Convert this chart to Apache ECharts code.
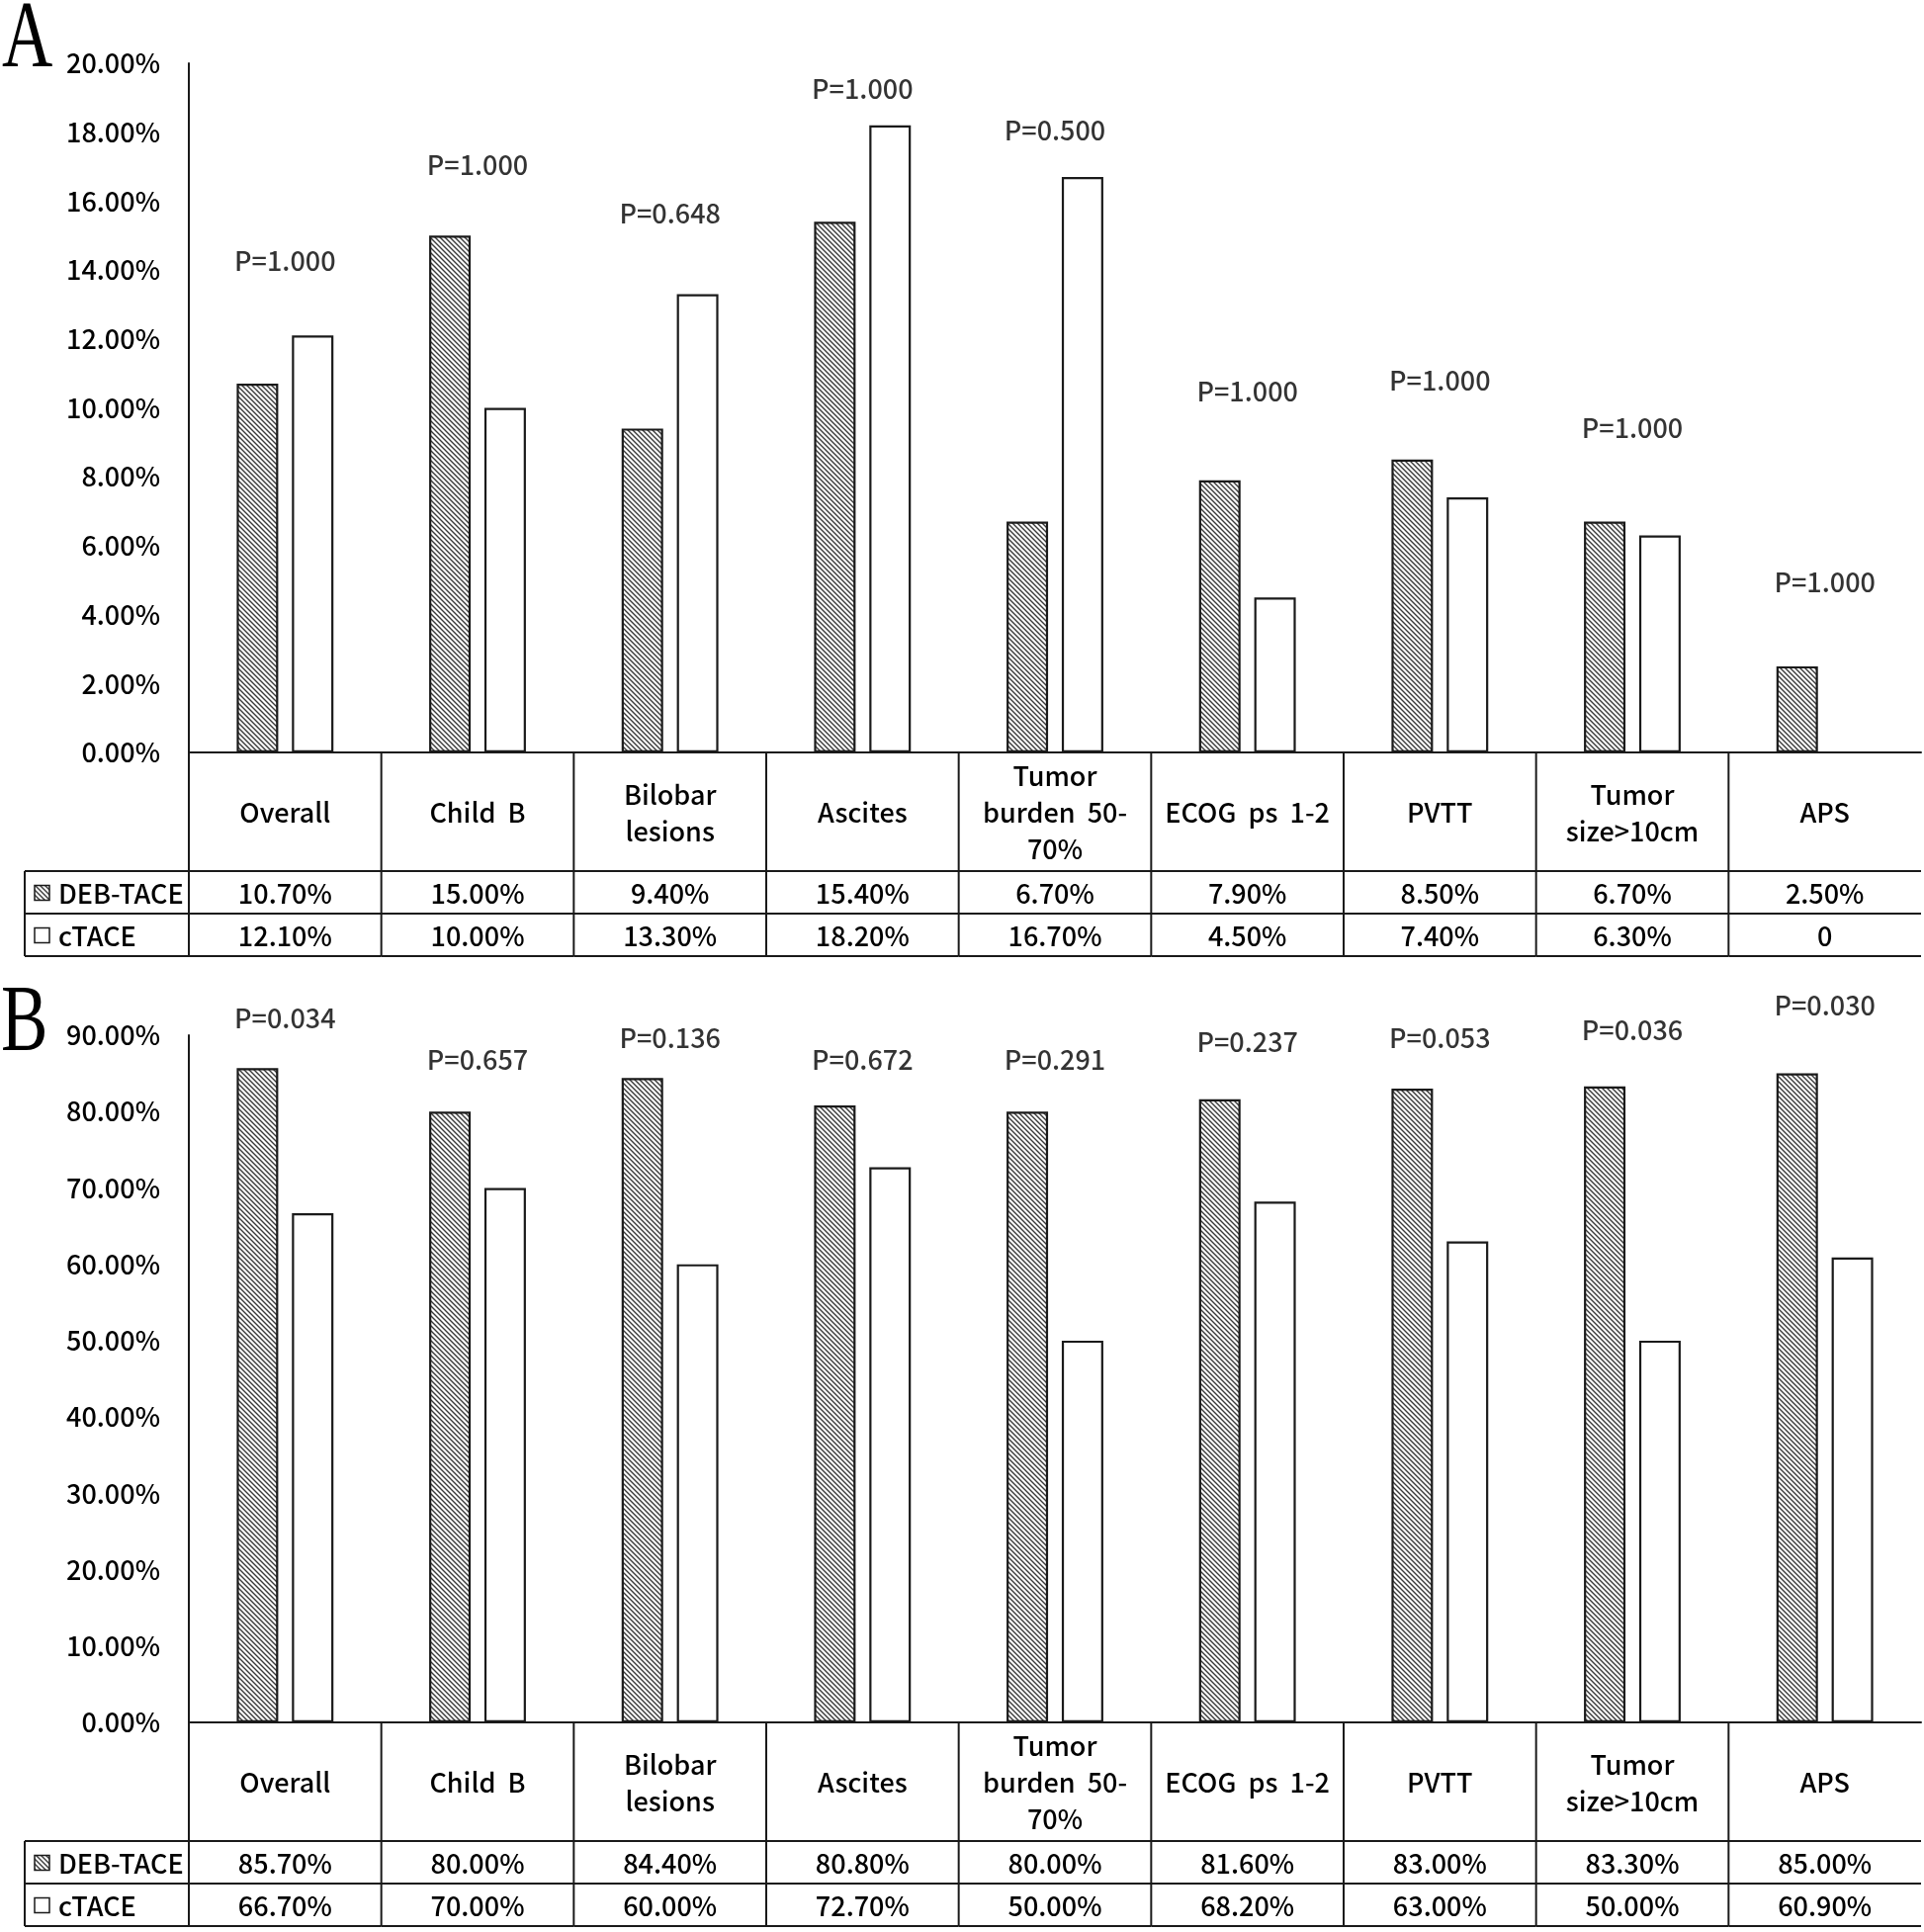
<!DOCTYPE html>
<html>
<head>
<meta charset="utf-8">
<script src="https://cdn.jsdelivr.net/npm/echarts@6/dist/echarts.min.js"></script>
<style>
html,body{margin:0;padding:0;background:#fff;}
#chart{width:1946px;height:1954px;}
</style>
</head>
<body>
<div id="chart"></div>
<script>
// ---------------- data ----------------
const categories = ['Overall', 'Child  B', 'Bilobar\nlesions', 'Ascites', 'Tumor\nburden  50-\n70%', 'ECOG  ps  1-2', 'PVTT', 'Tumor\nsize>10cm', 'APS'];
const seriesNames = ['DEB-TACE', 'cTACE'];

const debA   = [10.7, 15.0, 9.4, 15.4, 6.7, 7.9, 8.5, 6.7, 2.5];
const ctaceA = [12.1, 10.0, 13.3, 18.2, 16.7, 4.5, 7.4, 6.3, 0];
const pTextA = ['P=1.000', 'P=1.000', 'P=0.648', 'P=1.000', 'P=0.500', 'P=1.000', 'P=1.000', 'P=1.000', 'P=1.000'];
const pLevelA = [14.26, 17.05, 15.65, 19.26, 18.05, 10.47, 10.79, 9.43, 4.93];

const debB   = [85.7, 80.0, 84.4, 80.8, 80.0, 81.6, 83.0, 83.3, 85.0];
const ctaceB = [66.7, 70.0, 60.0, 72.7, 50.0, 68.2, 63.0, 50.0, 60.9];
const pTextB = ['P=0.034', 'P=0.657', 'P=0.136', 'P=0.672', 'P=0.291', 'P=0.237', 'P=0.053', 'P=0.036', 'P=0.030'];
const pLevelB = [92.2, 86.8, 89.7, 86.8, 86.8, 89.1, 89.7, 90.7, 93.9];

const yAxisA = {min: 0, max: 20, interval: 2};
const yAxisB = {min: 0, max: 90, interval: 10};
const panelLabels = ['A', 'B'];

// ---------------- styles ----------------
const FONT = '"Noto Sans CJK SC", "Noto Sans", sans-serif';
const FS = 27;
const FW = 500;
const INK = '#000';
const LINE = '#1a1a1a';

function makeHatch() {
  const s = 5;
  const c = document.createElement('canvas');
  c.width = s; c.height = s;
  const g = c.getContext('2d');
  g.fillStyle = '#fff';
  g.fillRect(0, 0, s, s);
  g.strokeStyle = '#3a3a3a';
  g.lineWidth = 1.4;
  g.beginPath();
  g.moveTo(-1, -1); g.lineTo(s + 1, s + 1);
  g.moveTo(-1, s - 1); g.lineTo(1, s + 1);
  g.moveTo(s - 1, -1); g.lineTo(s + 1, 1);
  g.stroke();
  return c;
}
const hatchCanvas = makeHatch();
const hatchFill = {image: hatchCanvas, repeat: 'repeat'};

function fmtPct(v) { return v === 0 ? '0' : v.toFixed(2) + '%'; }

function tableRenderer(deb, ctace) {
  return function (params, api) {
    const i = params.dataIndex;
    const c = api.coord([i, 0]);
    const bw = api.size([1, 0])[0];
    const L = c[0] - bw / 2, R = c[0] + bw / 2, y0 = c[1];
    const r1 = y0 + 120, r2 = y0 + 163, r3 = y0 + 206;
    const ls = {stroke: LINE, lineWidth: 2};
    const txt = (t, x, y, align) => ({
      type: 'text',
      style: {text: t, x: x, y: y, align: align || 'center', verticalAlign: 'middle',
              fontSize: FS, fontWeight: FW, fontFamily: FONT, fill: INK, lineHeight: 37}
    });
    const ch = [];
    ch.push({type: 'line', shape: {x1: L, y1: y0, x2: L, y2: r3}, style: ls});
    [r1, r2, r3].forEach(y => ch.push({type: 'line', shape: {x1: L, y1: y, x2: R, y2: y}, style: ls}));
    ch.push(txt(categories[i], c[0], (y0 + r1) / 2 + 1));
    ch.push(txt(fmtPct(deb[i]), c[0], (r1 + r2) / 2 + 1));
    ch.push(txt(fmtPct(ctace[i]), c[0], (r2 + r3) / 2 + 1));
    if (i === 0) {
      const LL = L - 166;
      [r1, r2, r3].forEach(y => ch.push({type: 'line', shape: {x1: LL, y1: y, x2: L, y2: y}, style: ls}));
      ch.push({type: 'line', shape: {x1: LL, y1: r1, x2: LL, y2: r3}, style: ls});
      ch.push({type: 'rect', shape: {x: LL + 10, y: (r1 + r2) / 2 - 7, width: 15, height: 15},
               style: {fill: hatchFill, stroke: LINE, lineWidth: 1.5}});
      ch.push({type: 'rect', shape: {x: LL + 10, y: (r2 + r3) / 2 - 7, width: 15, height: 15},
               style: {fill: '#fff', stroke: LINE, lineWidth: 1.5}});
      ch.push(txt(seriesNames[0], LL + 34, (r1 + r2) / 2 + 1, 'left'));
      ch.push(txt(seriesNames[1], LL + 34, (r2 + r3) / 2 + 1, 'left'));
    }
    return {type: 'group', children: ch};
  };
}

function panel(idx, deb, ctace, pText, pLevel) {
  const common = {xAxisIndex: idx, yAxisIndex: idx};
  return [
    Object.assign({type: 'bar', name: seriesNames[0], data: deb, barWidth: 42, barGap: '33%',
      itemStyle: {color: hatchFill, borderColor: LINE, borderWidth: 2.2}, silent: true}, common),
    Object.assign({type: 'bar', name: seriesNames[1], data: ctace.map(v => v === 0 ? null : v), barWidth: 42, barGap: '33%',
      itemStyle: {color: '#fff', borderColor: LINE, borderWidth: 2.2}, silent: true}, common),
    Object.assign({type: 'scatter', symbolSize: 0, silent: true, clip: false,
      data: pText.map((t, i) => ({value: [i, pLevel[i]], name: t})),
      label: {show: true, position: 'inside', formatter: p => p.name,
              fontSize: FS, fontWeight: FW, fontFamily: FONT, color: INK}}, common),
    Object.assign({type: 'custom', silent: true, clip: false, z: 5,
      data: categories.map((c, i) => [i, 0]),
      encode: {x: 0, y: 1},
      renderItem: tableRenderer(deb, ctace)}, common)
  ];
}

function yAxis(idx, cfg) {
  return {
    type: 'value', gridIndex: idx, min: cfg.min, max: cfg.max, interval: cfg.interval,
    axisLine: {show: true, lineStyle: {color: LINE, width: 2}},
    axisTick: {show: false},
    splitLine: {show: false},
    axisLabel: {formatter: v => v.toFixed(2) + '%', fontSize: FS, fontWeight: FW, fontFamily: FONT, color: INK, margin: 29}
  };
}
function xAxis(idx) {
  return {
    type: 'category', gridIndex: idx, data: categories,
    axisLine: {show: true, lineStyle: {color: LINE, width: 2}},
    axisTick: {show: false},
    axisLabel: {show: false}
  };
}

const chart = echarts.init(document.getElementById('chart'), null, {renderer: 'canvas'});
chart.setOption({
  backgroundColor: '#fff',
  animation: false,
  grid: [
    {left: 191, right: 3, top: 64, height: 697},
    {left: 191, right: 3, top: 1047, height: 695}
  ],
  xAxis: [xAxis(0), xAxis(1)],
  yAxis: [yAxis(0, yAxisA), yAxis(1, yAxisB)],
  graphic: [
    {type: 'text', left: 2, top: -6, scaleX: 0.74,
     style: {text: panelLabels[0], fontSize: 96, fontFamily: '"Liberation Serif", serif', fill: INK}},
    {type: 'text', left: 1, top: 989, scaleX: 0.74,
     style: {text: panelLabels[1], fontSize: 96, fontFamily: '"Liberation Serif", serif', fill: INK}}
  ],
  series: [].concat(panel(0, debA, ctaceA, pTextA, pLevelA), panel(1, debB, ctaceB, pTextB, pLevelB))
});
</script>
</body>
</html>
